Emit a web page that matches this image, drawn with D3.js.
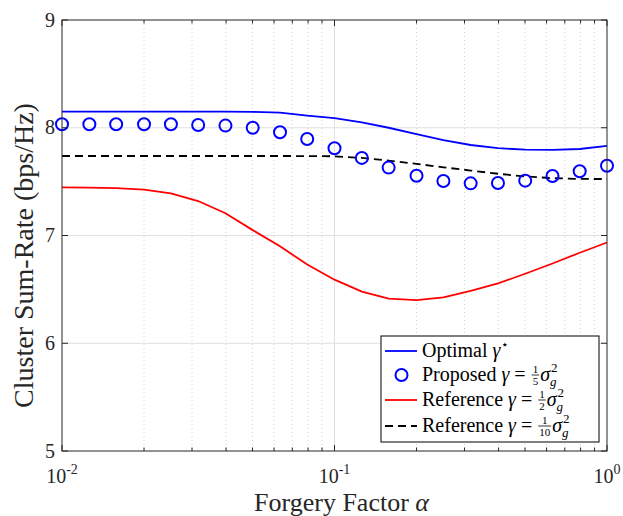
<!DOCTYPE html>
<html>
<head>
<meta charset="utf-8">
<title>Cluster Sum-Rate vs Forgery Factor</title>
<script src="https://d3js.org/d3.v7.min.js"></script>
<style>
  body { margin: 0; background: #fff; }
</style>
</head>
<body>
<div id="my_dataviz"></div>
<script>

// forgery factor values (x)
var alphas = [0.01, 0.0126, 0.0158, 0.02, 0.0251, 0.0316, 0.0398, 0.0501, 0.0631, 0.0794,
              0.1, 0.126, 0.158, 0.2, 0.251, 0.316, 0.398, 0.501, 0.631, 0.794, 1];

// sum-rate series (bps/Hz)
var optimal = [8.149, 8.149, 8.149, 8.149, 8.149, 8.149, 8.149, 8.147, 8.14, 8.113,
               8.09, 8.05, 8.0, 7.94, 7.885, 7.84, 7.81, 7.797, 7.795, 7.803, 7.832];
var proposed = [8.032, 8.032, 8.032, 8.032, 8.032, 8.026, 8.02, 8.0, 7.958, 7.895,
                7.81, 7.72, 7.63, 7.555, 7.506, 7.484, 7.487, 7.509, 7.552, 7.596, 7.648];
var refHalf = [7.447, 7.445, 7.44, 7.425, 7.39, 7.32, 7.206, 7.05, 6.9, 6.73,
               6.59, 6.48, 6.415, 6.4, 6.425, 6.485, 6.555, 6.645, 6.74, 6.84, 6.935];
var refTenth = [7.738, 7.738, 7.738, 7.738, 7.738, 7.738, 7.738, 7.738, 7.738, 7.737,
                7.735, 7.72, 7.695, 7.665, 7.633, 7.603, 7.573, 7.548, 7.532, 7.525, 7.524];

var yTicks = [5, 6, 7, 8, 9];
var xTicks = [0.01, 0.1, 1];
var xTickExp = ["-2", "-1", "0"];

var serif = "'Liberation Serif', 'Times New Roman', Tinos, 'Noto Serif', 'DejaVu Serif', FreeSerif, serif";

var margin = {top: 20, right: 16, bottom: 65, left: 62},
    width = 623 - margin.left - margin.right,
    height = 516 - margin.top - margin.bottom;

var svg = d3.select("#my_dataviz")
  .append("svg")
    .attr("width", 623)
    .attr("height", 516)
    .attr("font-family", serif)
    .style("font-family", serif)
  .append("g")
    .attr("transform", "translate(" + margin.left + "," + margin.top + ")");

var x = d3.scaleLog().domain([0.01, 1]).range([0, width]);
var y = d3.scaleLinear().domain([5, 9]).range([height, 0]);

// minor tick positions 2..9 per decade
var minor = x.ticks().filter(function(d) { return xTicks.indexOf(d) < 0; });

// grid
svg.selectAll("vminor").data(minor).enter().append("line")
  .attr("x1", function(d) { return x(d); }).attr("x2", function(d) { return x(d); })
  .attr("y1", 0).attr("y2", height)
  .attr("stroke", "#d4d4d4").attr("stroke-width", 1).attr("stroke-dasharray", "1,3");
svg.selectAll("vmajor").data([0.1]).enter().append("line")
  .attr("x1", function(d) { return x(d); }).attr("x2", function(d) { return x(d); })
  .attr("y1", 0).attr("y2", height)
  .attr("stroke", "#e0e0e0").attr("stroke-width", 1);
svg.selectAll("hmajor").data([6, 7, 8]).enter().append("line")
  .attr("x1", 0).attr("x2", width)
  .attr("y1", function(d) { return y(d); }).attr("y2", function(d) { return y(d); })
  .attr("stroke", "#e0e0e0").attr("stroke-width", 1);

// curves
var line = d3.line()
  .x(function(d) { return x(d[0]); })
  .y(function(d) { return y(d[1]); });

function pairs(vals) { return alphas.map(function(a, i) { return [a, vals[i]]; }); }

svg.append("path").datum(pairs(refHalf))
  .attr("fill", "none").attr("stroke", "#ff0000").attr("stroke-width", 1.8)
  .attr("d", line);
svg.append("path").datum(pairs(refTenth))
  .attr("fill", "none").attr("stroke", "#000").attr("stroke-width", 1.8)
  .attr("stroke-dasharray", "8,5")
  .attr("d", line);
svg.append("path").datum(pairs(optimal))
  .attr("fill", "none").attr("stroke", "#0000ff").attr("stroke-width", 1.8)
  .attr("d", line);
svg.selectAll("mycircles").data(pairs(proposed)).enter().append("circle")
  .attr("cx", function(d) { return x(d[0]); })
  .attr("cy", function(d) { return y(d[1]); })
  .attr("r", 6)
  .attr("fill", "none").attr("stroke", "#0000ff").attr("stroke-width", 2);

// axes box with inward ticks on all four sides
var axisColor = "#262626";
svg.append("rect").attr("width", width).attr("height", height)
  .attr("fill", "none").attr("stroke", axisColor).attr("stroke-width", 1);

[0, height].forEach(function(edge) {
  var dir = edge == 0 ? 1 : -1;
  svg.selectAll("xt").data(xTicks).enter().append("line")
    .attr("x1", function(d) { return x(d); }).attr("x2", function(d) { return x(d); })
    .attr("y1", edge).attr("y2", edge + dir * 6)
    .attr("stroke", axisColor);
  svg.selectAll("xm").data(minor).enter().append("line")
    .attr("x1", function(d) { return x(d); }).attr("x2", function(d) { return x(d); })
    .attr("y1", edge).attr("y2", edge + dir * 3.5)
    .attr("stroke", axisColor);
});
[0, width].forEach(function(edge) {
  var dir = edge == 0 ? 1 : -1;
  svg.selectAll("yt").data(yTicks).enter().append("line")
    .attr("x1", edge).attr("x2", edge + dir * 6)
    .attr("y1", function(d) { return y(d); }).attr("y2", function(d) { return y(d); })
    .attr("stroke", axisColor);
});

// tick labels
svg.selectAll("ylab").data(yTicks).enter().append("text")
  .attr("x", -7).attr("y", function(d) { return y(d); })
  .attr("dy", "0.33em")
  .attr("text-anchor", "end")
  .attr("fill", "#262626")
  .style("font-size", "20px")
  .text(function(d) { return d; });

var xl = svg.selectAll("xlab").data(xTicks).enter().append("text")
  .attr("x", function(d) { return x(d); })
  .attr("y", height + 32)
  .attr("text-anchor", "middle")
  .attr("fill", "#262626")
  .style("font-size", "20px");
xl.append("tspan").text("10");
xl.append("tspan").attr("dy", -9).style("font-size", "14px")
  .text(function(d, i) { return xTickExp[i]; });

// axis titles
var xt = svg.append("text")
  .attr("x", width / 2 + 7).attr("y", height + 60)
  .attr("text-anchor", "middle")
  .attr("fill", "#262626")
  .style("font-size", "26px");
xt.append("tspan").text("Forgery Factor ");
xt.append("tspan").style("font-style", "italic").text("α");

svg.append("text")
  .attr("transform", "translate(" + (-29) + "," + (y(7) + 20) + ") rotate(-90)")
  .attr("text-anchor", "middle")
  .attr("fill", "#262626")
  .style("font-size", "28px")
  .text("Cluster Sum-Rate (bps/Hz)");

// legend
var lg = svg.append("g").attr("transform", "translate(" + (381 - margin.left) + "," + (336 - margin.top) + ")");
lg.append("rect").attr("width", 218).attr("height", 106)
  .attr("fill", "#fff").attr("stroke", "#000").attr("stroke-width", 1);

var rowY = [15, 39, 64, 90];
lg.append("line").attr("x1", 4).attr("x2", 36).attr("y1", rowY[0]).attr("y2", rowY[0])
  .attr("stroke", "#0000ff").attr("stroke-width", 1.8);
lg.append("circle").attr("cx", 20.5).attr("cy", rowY[1]).attr("r", 6)
  .attr("fill", "none").attr("stroke", "#0000ff").attr("stroke-width", 2);
lg.append("line").attr("x1", 4).attr("x2", 36).attr("y1", rowY[2]).attr("y2", rowY[2])
  .attr("stroke", "#ff0000").attr("stroke-width", 1.8);
lg.append("line").attr("x1", 4).attr("x2", 36).attr("y1", rowY[3]).attr("y2", rowY[3])
  .attr("stroke", "#000").attr("stroke-width", 1.8).attr("stroke-dasharray", "8,5");

// write a row of math-ish text piece by piece
function mathRow(g, x0, base, parts) {
  var cx = x0;
  parts.forEach(function(p) {
    if (p.frac) {
      var n = g.append("text").style("font-size", "11px").text(p.frac[0]);
      var d = g.append("text").style("font-size", "11px").text(p.frac[1]);
      var w = Math.max(n.node().getComputedTextLength(), d.node().getComputedTextLength()) + 2;
      n.attr("x", cx + w / 2).attr("y", base - 8.5).attr("text-anchor", "middle");
      d.attr("x", cx + w / 2).attr("y", base + 4).attr("text-anchor", "middle");
      g.append("line").attr("x1", cx).attr("x2", cx + w)
        .attr("y1", base - 6).attr("y2", base - 6)
        .attr("stroke", "#000").attr("stroke-width", 0.8);
      cx += w + 1;
    } else if (p.supsub) {
      var s1 = g.append("text").attr("x", cx + 1).attr("y", base - 9)
        .style("font-size", "13px").text(p.supsub[0]);
      var s2 = g.append("text").attr("x", cx).attr("y", base + 5)
        .style("font-size", "13px").style("font-style", "italic").text(p.supsub[1]);
      cx += Math.max(s1.node().getComputedTextLength(), s2.node().getComputedTextLength()) + 1;
    } else {
      var t = g.append("text").attr("x", cx).attr("y", base + (p.dy || 0))
        .style("font-size", (p.size || 20) + "px")
        .style("font-style", p.italic ? "italic" : "normal")
        .text(p.s);
      cx += t.node().getComputedTextLength() + (p.gap || 0);
    }
  });
}

mathRow(lg, 41, rowY[0] + 6, [
  {s: "Optimal", gap: 5}, {s: "γ", italic: true, gap: 1}, {s: "⋆", size: 14, dy: -9}
]);
mathRow(lg, 41, rowY[1] + 6, [
  {s: "Proposed", gap: 5}, {s: "γ", italic: true, gap: 5}, {s: "=", gap: 6}, {frac: ["1", "5"]},
  {s: "σ", italic: true}, {supsub: ["2", "g"]}
]);
mathRow(lg, 41, rowY[2] + 6, [
  {s: "Reference", gap: 5}, {s: "γ", italic: true, gap: 5}, {s: "=", gap: 6}, {frac: ["1", "2"]},
  {s: "σ", italic: true}, {supsub: ["2", "g"]}
]);
mathRow(lg, 41, rowY[3] + 6, [
  {s: "Reference", gap: 5}, {s: "γ", italic: true, gap: 5}, {s: "=", gap: 6}, {frac: ["1", "10"]},
  {s: "σ", italic: true}, {supsub: ["2", "g"]}
]);

</script>
</body>
</html>
